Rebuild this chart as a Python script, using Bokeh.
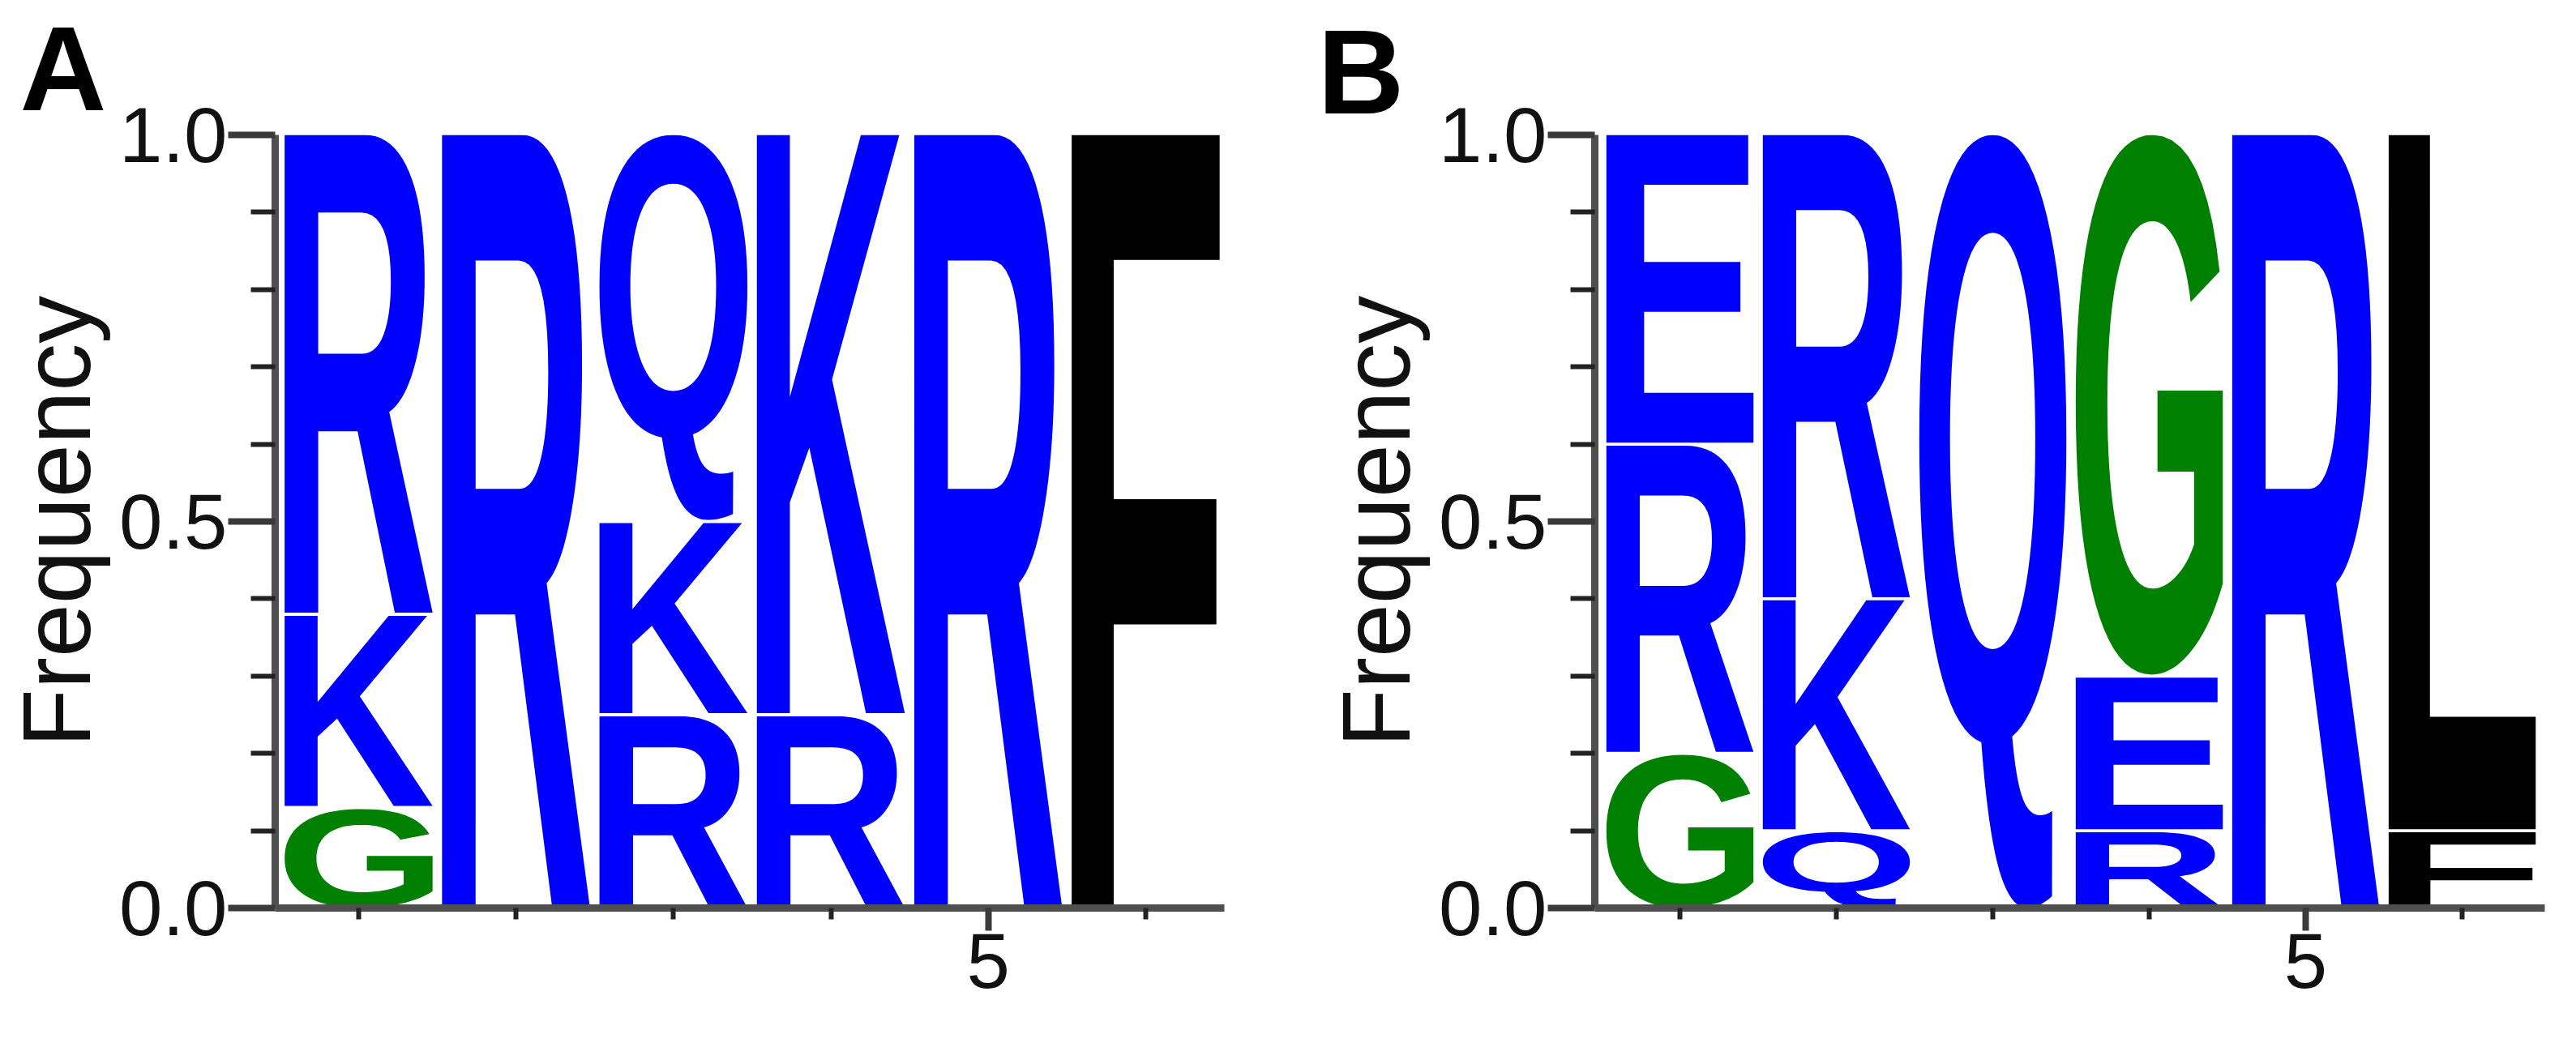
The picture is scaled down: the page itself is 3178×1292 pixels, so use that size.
import glob
import struct
import numpy as np
from bokeh.plotting import figure
from bokeh.layouts import row
from bokeh.models import Range1d, FixedTicker, PrintfTickFormatter, ColumnDataSource
from bokeh.core.properties import value
from bokeh.embed import file_html
from bokeh.resources import INLINE

# ---------------- data ----------------
positions = [1, 2, 3, 4, 5, 6]
# letters per position, stacked from bottom to top, with their frequencies
a_letters = [["G", "K", "R"], ["R"], ["R", "K", "Q"], ["R", "K"], ["R"], ["F"]]
a_freqs = [[0.13, 0.25, 0.62], [1.0], [0.25, 0.25, 0.50], [0.25, 0.75], [1.0], [1.0]]
b_letters = [["G", "R", "E"], ["Q", "K", "R"], ["Q"], ["R", "E", "G"], ["R"], ["F", "L"]]
b_freqs = [[0.20, 0.40, 0.40], [0.10, 0.30, 0.60], [1.0], [0.10, 0.20, 0.70], [1.0], [0.10, 0.90]]
y_ticks = [0.0, 0.5, 1.0]
y_minor_ticks = [0.1, 0.2, 0.3, 0.4, 0.6, 0.7, 0.8, 0.9]
x_ticks = [5]
x_minor_ticks = [1, 2, 3, 4, 6]
panel_names = ["A", "B"]
y_label = "Frequency"
letter_colors = {"R": "#0000ff", "K": "#0000ff", "Q": "#0000ff", "E": "#0000ff",
                 "G": "#008000", "F": "#000000", "L": "#000000"}

COL_WIDTH = 0.94
STACK_GAP = 0.004


# ---------------- minimal TrueType outline reader ----------------
class TTFont:
    def __init__(self, path):
        d = open(path, "rb").read()
        self.d = d
        n = struct.unpack(">H", d[4:6])[0]
        self.t = {}
        for i in range(n):
            tag, _, off, ln = struct.unpack(">4sIII", d[12 + 16 * i: 28 + 16 * i])
            self.t[tag.decode("latin1")] = (off, ln)
        if "glyf" not in self.t:
            raise ValueError("no glyf")
        ho = self.t["head"][0]
        fmt = struct.unpack(">h", d[ho + 50: ho + 52])[0]
        mo = self.t["maxp"][0]
        ng = struct.unpack(">H", d[mo + 4: mo + 6])[0]
        lo = self.t["loca"][0]
        if fmt == 0:
            self.loca = [2 * v for v in struct.unpack(">%dH" % (ng + 1), d[lo: lo + 2 * (ng + 1)])]
        else:
            self.loca = list(struct.unpack(">%dI" % (ng + 1), d[lo: lo + 4 * (ng + 1)]))
        self.cmap = {}
        co = self.t["cmap"][0]
        nsub = struct.unpack(">H", d[co + 2: co + 4])[0]
        for i in range(nsub):
            pid, eid, off = struct.unpack(">HHI", d[co + 4 + 8 * i: co + 12 + 8 * i])
            so = co + off
            if struct.unpack(">H", d[so: so + 2])[0] != 4:
                continue
            segx2 = struct.unpack(">H", d[so + 6: so + 8])[0]
            seg = segx2 // 2
            ends = struct.unpack(">%dH" % seg, d[so + 14: so + 14 + segx2])
            starts = struct.unpack(">%dH" % seg, d[so + 16 + segx2: so + 16 + 2 * segx2])
            deltas = struct.unpack(">%dh" % seg, d[so + 16 + 2 * segx2: so + 16 + 3 * segx2])
            rpos = so + 16 + 3 * segx2
            roffs = struct.unpack(">%dH" % seg, d[rpos: rpos + segx2])
            for s in range(seg):
                for c in range(starts[s], min(ends[s], 0x7F) + 1):
                    if roffs[s] == 0:
                        g = (c + deltas[s]) & 0xFFFF
                    else:
                        a = rpos + 2 * s + roffs[s] + 2 * (c - starts[s])
                        g = struct.unpack(">H", d[a: a + 2])[0]
                        if g:
                            g = (g + deltas[s]) & 0xFFFF
                    self.cmap[c] = g
            break

    def _glyph(self, gid):
        d = self.d
        if self.loca[gid + 1] == self.loca[gid]:
            return []
        go = self.t["glyf"][0] + self.loca[gid]
        nc = struct.unpack(">h", d[go: go + 2])[0]
        p = go + 10
        if nc < 0:
            out = []
            more = True
            while more:
                flags, gi = struct.unpack(">HH", d[p: p + 4]); p += 4
                if flags & 1:
                    dx, dy = struct.unpack(">hh", d[p: p + 4]); p += 4
                else:
                    dx, dy = struct.unpack(">bb", d[p: p + 2]); p += 2
                if flags & 8:
                    p += 2
                elif flags & 0x40:
                    p += 4
                elif flags & 0x80:
                    p += 8
                for c in self._glyph(gi):
                    out.append([(x + dx, y + dy) for x, y in c])
                more = bool(flags & 0x20)
            return out
        endpts = struct.unpack(">%dH" % nc, d[p: p + 2 * nc]); p += 2 * nc
        ilen = struct.unpack(">H", d[p: p + 2])[0]; p += 2 + ilen
        npts = endpts[-1] + 1
        flags = []
        while len(flags) < npts:
            f = d[p]; p += 1
            flags.append(f)
            if f & 8:
                r = d[p]; p += 1
                flags.extend([f] * r)
        xs, x = [], 0
        for f in flags:
            if f & 2:
                v = d[p]; p += 1
                x += v if f & 16 else -v
            elif not f & 16:
                x += struct.unpack(">h", d[p: p + 2])[0]; p += 2
            xs.append(x)
        ys, y = [], 0
        for f in flags:
            if f & 4:
                v = d[p]; p += 1
                y += v if f & 32 else -v
            elif not f & 32:
                y += struct.unpack(">h", d[p: p + 2])[0]; p += 2
            ys.append(y)
        res, st = [], 0
        for e in endpts:
            pts = [(xs[i], ys[i], flags[i] & 1) for i in range(st, e + 1)]
            st = e + 1
            res.append(self._flatten(pts))
        return res

    @staticmethod
    def _flatten(pts, steps=10):
        k = next((i for i, q in enumerate(pts) if q[2]), None)
        if k is None:
            m = ((pts[0][0] + pts[1][0]) / 2, (pts[0][1] + pts[1][1]) / 2, 1)
            pts = [m] + pts[1:] + pts[:1]
        else:
            pts = pts[k:] + pts[:k]
        out = [(pts[0][0], pts[0][1])]
        ctrl = None
        ts = np.linspace(0, 1, steps + 1)[1:]

        def quad(p0, c, p1):
            for t in ts:
                out.append(((1 - t) ** 2 * p0[0] + 2 * (1 - t) * t * c[0] + t * t * p1[0],
                            (1 - t) ** 2 * p0[1] + 2 * (1 - t) * t * c[1] + t * t * p1[1]))

        for q in pts[1:] + [pts[0]]:
            if q[2]:
                if ctrl is None:
                    out.append((q[0], q[1]))
                else:
                    quad(out[-1], ctrl, q)
                    ctrl = None
            else:
                if ctrl is None:
                    ctrl = q
                else:
                    mid = ((ctrl[0] + q[0]) / 2, (ctrl[1] + q[1]) / 2)
                    quad(out[-1], ctrl, mid)
                    ctrl = q
        return out

    def contours(self, ch):
        return self._glyph(self.cmap.get(ord(ch), 0))


def find_font():
    pats = ["/usr/share/fonts/**/LiberationSans-Bold.ttf",
            "/usr/share/fonts/**/Arial*Bold*.ttf",
            "/usr/share/fonts/**/DejaVuSans-Bold.ttf",
            "/usr/share/fonts/**/Roboto-Bold.ttf",
            "/usr/share/fonts/**/*Bold*.ttf",
            "/usr/local/share/fonts/**/*Bold*.ttf",
            "/usr/share/fonts/**/*.ttf"]
    for pat in pats:
        for path in sorted(glob.glob(pat, recursive=True)):
            try:
                f = TTFont(path)
                if f.contours("R"):
                    return f
            except Exception:
                continue
    return None


FONT = find_font()


def signed_area(a):
    x, y = a[:, 0], a[:, 1]
    return 0.5 * np.sum(x * np.roll(y, -1) - np.roll(x, -1) * y)


def inside(pt, poly):
    x, y = pt
    xs, ys = poly[:, 0], poly[:, 1]
    x2, y2 = np.roll(xs, -1), np.roll(ys, -1)
    cond = (ys > y) != (y2 > y)
    with np.errstate(divide="ignore", invalid="ignore"):
        xint = xs + (y - ys) * (x2 - xs) / (y2 - ys)
    return np.sum(cond & (x < xint)) % 2 == 1


def letter_polygons(ch, x0, x1, y0, y1):
    cs = [np.array(c, float) for c in FONT.contours(ch) if len(c) > 2]
    allp = np.vstack(cs)
    xmin, ymin = allp.min(axis=0)
    xmax, ymax = allp.max(axis=0)
    tr = []
    for c in cs:
        t = np.column_stack([x0 + (c[:, 0] - xmin) / (xmax - xmin) * (x1 - x0),
                             y0 + (c[:, 1] - ymin) / (ymax - ymin) * (y1 - y0)])
        tr.append(t)
    areas = [signed_area(c) for c in cs]
    big = int(np.argmax(np.abs(areas)))
    osign = np.sign(areas[big])
    outers = [i for i, a in enumerate(areas) if np.sign(a) == osign]
    holes = [i for i, a in enumerate(areas) if np.sign(a) != osign]
    groups = {i: [i] for i in outers}
    for h in holes:
        host = None
        for o in sorted(outers, key=lambda i: abs(areas[i])):
            if inside(cs[h][0], cs[o]):
                host = o
                break
        if host is None:
            host = big
        groups[host].append(h)
    xs, ys = [], []
    for o in outers:
        xs.append([list(tr[i][:, 0]) for i in groups[o]])
        ys.append([list(tr[i][:, 1]) for i in groups[o]])
    return xs, ys


def build_logo(p, letters, freqs):
    data = dict(xs=[], ys=[], color=[], letter=[])
    tx, ty, tc, tt, ts = [], [], [], [], []
    for pos, lets, fr in zip(positions, letters, freqs):
        base = 0.0
        for ch, f in zip(lets, fr):
            y0 = base + (STACK_GAP / 2 if base > 0 else 0.0)
            y1 = base + f - (STACK_GAP / 2 if base + f < 0.999 else 0.0)
            if FONT is not None:
                xs, ys = letter_polygons(ch, pos - COL_WIDTH / 2, pos + COL_WIDTH / 2, y0, y1)
                data["xs"].append(xs)
                data["ys"].append(ys)
                data["color"].append(letter_colors[ch])
                data["letter"].append(ch)
            else:
                tx.append(pos); ty.append(y0); tc.append(letter_colors[ch]); tt.append(ch)
                ts.append("%dpx" % int((y1 - y0) * 1300))
            base += f
    if FONT is not None:
        p.multi_polygons(xs="xs", ys="ys", fill_color="color", line_color=None,
                         source=ColumnDataSource(data))
    else:
        p.text(x=tx, y=ty, text=tt, text_color=tc, text_font_size=ts, text_align="center",
               text_baseline="bottom", text_font=value("Liberation Sans"), text_font_style="bold")


def make_panel(letters, freqs, name, title_offset, title_standoff,
               xr, width, mb_left, mb_right, mb_top, frame_h, height):
    p = figure(width=width, height=height, x_range=Range1d(*xr), y_range=Range1d(0, 1),
               output_backend="svg", toolbar_location=None, title=name,
               min_border_left=mb_left, min_border_right=mb_right, min_border_top=mb_top,
               min_border_bottom=height - mb_top - frame_h)
    p.xgrid.visible = False
    p.ygrid.visible = False
    p.outline_line_color = None
    p.background_fill_color = "white"
    p.border_fill_color = "white"

    # panel letter as the figure title, pushed into the top-left corner
    p.title.text_font = "Liberation Sans"
    p.title.text_font_size = "148px"
    p.title.text_font_style = "bold"
    p.title.text_color = "black"
    p.title.align = "left"
    p.title.offset = title_offset
    p.title.standoff = title_standoff

    p.xaxis.ticker = FixedTicker(ticks=x_ticks, minor_ticks=x_minor_ticks)
    p.yaxis.ticker = FixedTicker(ticks=y_ticks, minor_ticks=y_minor_ticks)
    p.yaxis.formatter = PrintfTickFormatter(format="%.1f")
    for ax in (p.xaxis[0], p.yaxis[0]):
        ax.axis_line_width = 9
        ax.axis_line_color = "#4f4f4f"
        ax.major_tick_line_width = 8
        ax.major_tick_line_color = "#3a3a3a"
        ax.minor_tick_line_width = 6
        ax.minor_tick_line_color = "#222222"
        ax.major_tick_in = 0
        ax.minor_tick_in = 0
        ax.major_label_text_font = "Liberation Sans"
        ax.major_label_text_font_size = "96px"
        ax.major_label_text_color = "#111111"
    p.yaxis.major_tick_out = 58
    p.yaxis.minor_tick_out = 30
    p.xaxis.major_tick_out = 28
    p.xaxis.minor_tick_out = 14
    p.yaxis.major_label_standoff = 1
    p.xaxis.major_label_standoff = 3
    p.yaxis.axis_label = y_label
    p.yaxis.axis_label_text_font = "Liberation Sans"
    p.yaxis.axis_label_text_font_size = "118px"
    p.yaxis.axis_label_text_font_style = "normal"
    p.yaxis.axis_label_text_color = "#111111"
    p.yaxis.axis_label_standoff = 8

    build_logo(p, letters, freqs)
    return p


pa = make_panel(a_letters, a_freqs, panel_names[0], -315, -1,
                (0.47, 6.50), 1622, 339, 112, 165, 970, 1277)
pb = make_panel(b_letters, b_freqs, panel_names[1], -342, -9,
                (0.456, 6.528), 1540, 345, 23, 155, 965, 1277)

layout = row(pa, pb)
open("out.html", "w").write(file_html(layout, INLINE))
